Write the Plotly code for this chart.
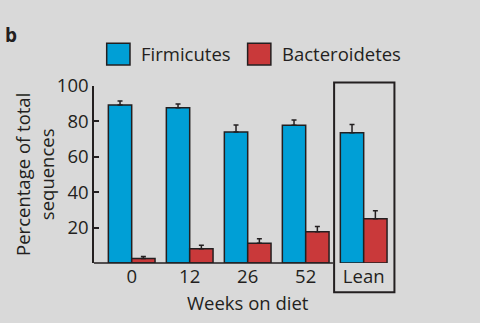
import plotly.graph_objects as go

# Weeks on diet / lean controls
categories = ["0", "12", "26", "52", "Lean"]

# Percentage of total sequences (mean) and upper error (s.e.m.)
firmicutes = [89.3, 87.7, 74.0, 77.8, 73.6]
firmicutes_err = [2.2, 2.2, 3.9, 3.0, 4.6]
bacteroidetes = [2.5, 8.0, 11.1, 17.6, 25.0]
bacteroidetes_err = [1.2, 2.0, 2.6, 3.0, 4.5]

y_ticks = [20, 40, 60, 80, 100]

BG = "#d9d9d9"
BLUE = "#009fd6"
RED = "#c9393a"
INK = "#231f20"
FONT = "Open Sans"
FS = 18.5

x_idx = list(range(len(categories)))

fig = go.Figure()
for name, vals, errs, color in [
    ("Firmicutes", firmicutes, firmicutes_err, BLUE),
    ("Bacteroidetes", bacteroidetes, bacteroidetes_err, RED),
]:
    fig.add_trace(go.Bar(
        x=x_idx, y=vals, name=name,
        marker=dict(color=color, line=dict(color=INK, width=1.5)),
        error_y=dict(type="data", symmetric=False, array=errs,
                     arrayminus=[0] * len(errs),
                     color=INK, thickness=1.5, width=2.5),
        showlegend=False,
    ))

fig.update_layout(
    width=480, height=323,
    margin=dict(l=94, r=80, t=86, b=60),
    paper_bgcolor=BG, plot_bgcolor=BG,
    barmode="group", bargap=0.195, bargroupgap=0,
    font=dict(family=FONT, size=FS, color=INK),
    xaxis=dict(
        range=[-0.65, 4.626], tickmode="array", tickvals=x_idx,
        ticktext=categories, showline=False, showgrid=False,
        zeroline=False, ticks="", tickfont=dict(size=FS),
    ),
    yaxis=dict(
        range=[0, 100], tickmode="array", tickvals=y_ticks,
        showline=True, linecolor=INK, linewidth=1.5,
        ticks="inside", ticklen=5, tickwidth=1.5, tickcolor=INK,
        showgrid=False, zeroline=False, tickfont=dict(size=FS),
    ),
)

# baseline, stopping at the lean-control frame
fig.add_shape(type="line", xref="x", yref="paper",
              x0=-0.65, x1=3.47, y0=0, y1=0,
              line=dict(color=INK, width=1.5))

# frame around the lean controls
fig.add_shape(type="rect", xref="x", yref="paper",
              x0=4 - 0.51, x1=4 + 0.53, y0=-0.165, y1=1.02,
              line=dict(color=INK, width=2), fillcolor="rgba(0,0,0,0)")

# legend swatches and labels
for name, color, x0, x1, xt in [
    ("Firmicutes", BLUE, 0.0415, 0.1176, 0.147),
    ("Bacteroidetes", RED, 0.502, 0.578, 0.608),
]:
    fig.add_shape(type="rect", xref="paper", yref="paper",
                  x0=x0, x1=x1, y0=1.119, y1=1.241,
                  fillcolor=color, line=dict(color=INK, width=1.5))
    fig.add_annotation(text=name, xref="paper", yref="paper",
                       x=xt, y=1.181, xanchor="left", yanchor="middle",
                       showarrow=False, font=dict(size=FS))

fig.add_annotation(text="Percentage of total<br>sequences",
                   xref="paper", yref="paper", x=-0.193, y=0.503,
                   xanchor="center", yanchor="middle", textangle=-90,
                   showarrow=False, font=dict(size=FS))

fig.add_annotation(text="Weeks on diet", xref="paper", yref="paper",
                   x=0.503, y=-0.223, xanchor="center", yanchor="middle",
                   showarrow=False, font=dict(size=FS))

fig.add_annotation(text="<b>b</b>", xref="paper", yref="paper",
                   x=-0.27, y=1.288, xanchor="center", yanchor="middle",
                   showarrow=False, font=dict(size=19))

fig.write_html("out.html")
